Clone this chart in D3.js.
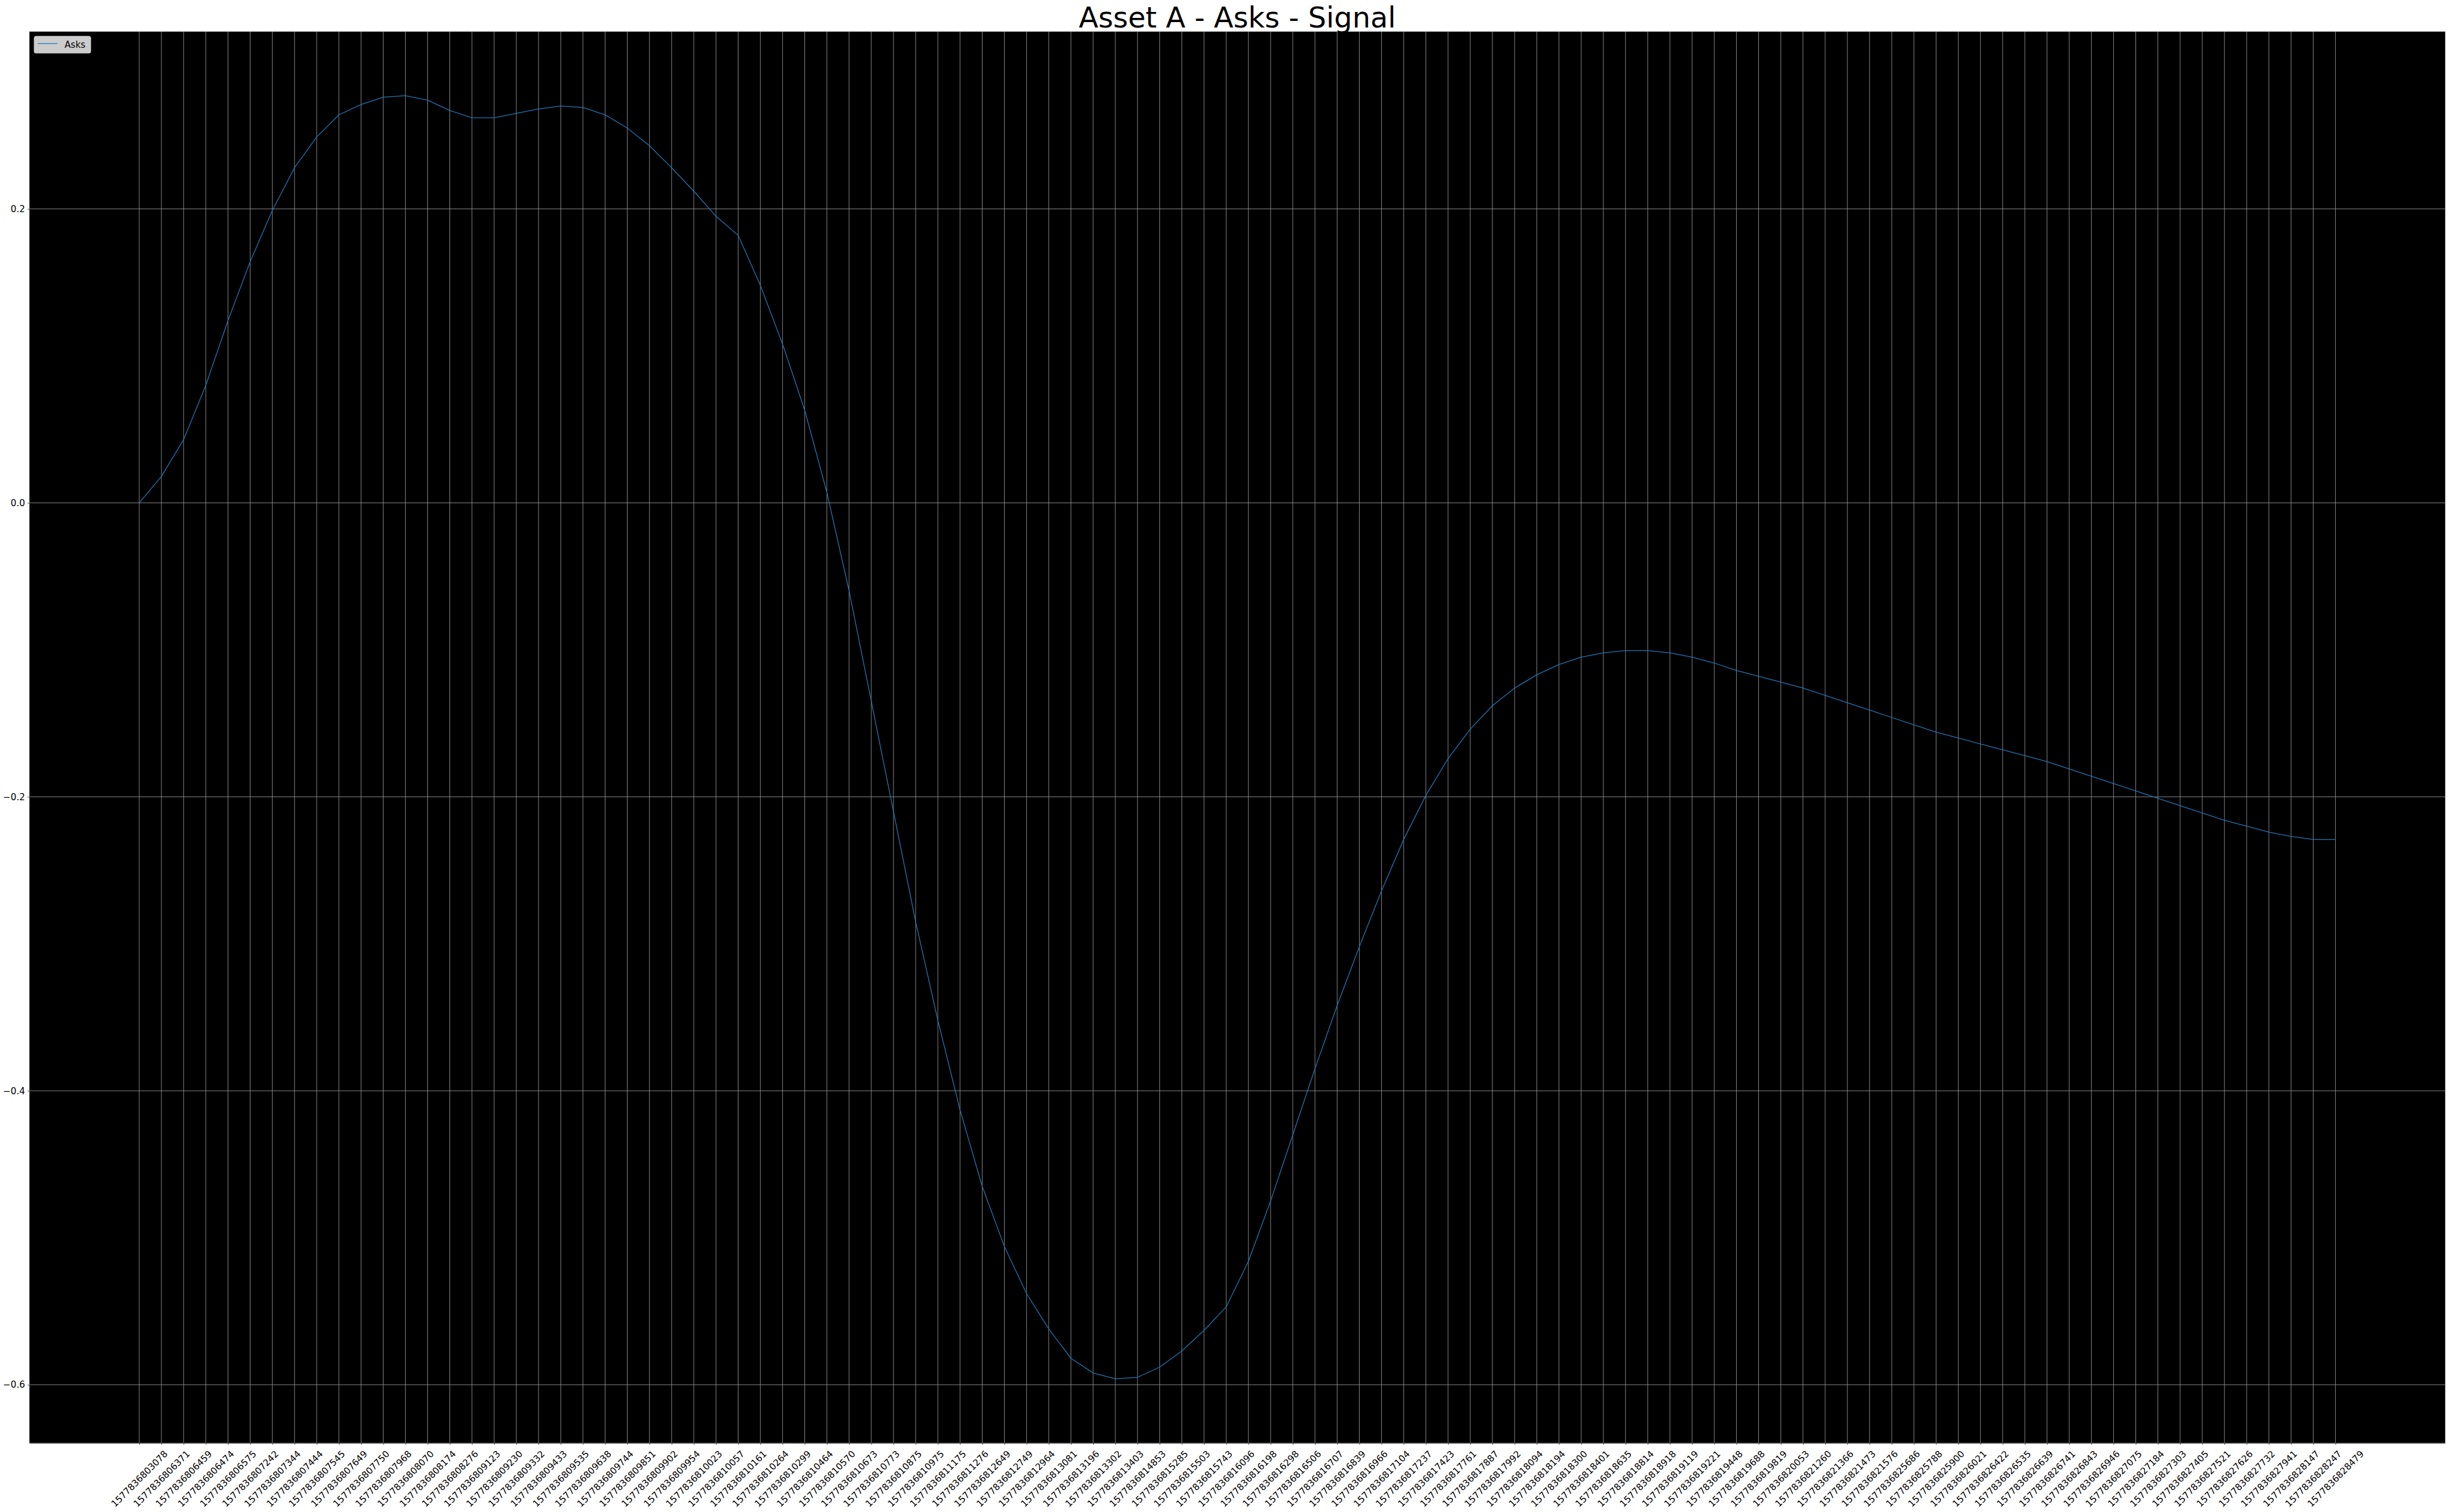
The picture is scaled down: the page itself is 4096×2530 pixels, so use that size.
<!DOCTYPE html>
<html><head><meta charset="utf-8">
<script src="https://cdn.jsdelivr.net/npm/d3@7"></script>
<style>html,body{margin:0;padding:0;background:#fff;overflow:hidden;} svg{display:block;font-family:"DejaVu Sans",sans-serif;}</style>
</head><body>
<script>
const chartTitle = "Asset A - Asks - Signal";
const seriesName = "Asks";
const timestamps = [
"1577836803078","1577836806371","1577836806459","1577836806474","1577836806575","1577836807242","1577836807344","1577836807444","1577836807545","1577836807649",
"1577836807750","1577836807968","1577836808070","1577836808174","1577836808276","1577836809123","1577836809230","1577836809332","1577836809433","1577836809535",
"1577836809638","1577836809744","1577836809851","1577836809902","1577836809954","1577836810023","1577836810057","1577836810161","1577836810264","1577836810299",
"1577836810464","1577836810570","1577836810673","1577836810773","1577836810875","1577836810975","1577836811175","1577836811276","1577836812649","1577836812749",
"1577836812964","1577836813081","1577836813196","1577836813302","1577836813403","1577836814853","1577836815285","1577836815503","1577836815743","1577836816096",
"1577836816198","1577836816298","1577836816506","1577836816707","1577836816839","1577836816966","1577836817104","1577836817237","1577836817423","1577836817761",
"1577836817887","1577836817992","1577836818094","1577836818194","1577836818300","1577836818401","1577836818635","1577836818814","1577836818918","1577836819119",
"1577836819221","1577836819448","1577836819688","1577836819819","1577836820053","1577836821260","1577836821366","1577836821473","1577836821576","1577836825686",
"1577836825788","1577836825900","1577836826021","1577836826422","1577836826535","1577836826639","1577836826741","1577836826843","1577836826946","1577836827075",
"1577836827184","1577836827303","1577836827405","1577836827521","1577836827626","1577836827732","1577836827941","1577836828147","1577836828247","1577836828479"];
const asks = [
0.000,0.018,0.043,0.080,0.124,0.164,0.199,0.228,0.249,0.264,
0.271,0.276,0.277,0.274,0.267,0.262,0.262,0.265,0.268,0.270,
0.269,0.264,0.255,0.243,0.228,0.212,0.195,0.182,0.148,0.108,
0.063,0.007,-0.060,-0.135,-0.210,-0.285,-0.352,-0.413,-0.465,-0.506,
-0.538,-0.562,-0.582,-0.592,-0.596,-0.595,-0.588,-0.577,-0.563,-0.547,
-0.516,-0.475,-0.430,-0.385,-0.342,-0.302,-0.264,-0.229,-0.199,-0.174,
-0.154,-0.138,-0.126,-0.117,-0.110,-0.105,-0.102,-0.1005,-0.1005,-0.102,
-0.105,-0.109,-0.114,-0.118,-0.122,-0.126,-0.131,-0.136,-0.141,-0.146,
-0.151,-0.156,-0.160,-0.164,-0.168,-0.172,-0.176,-0.181,-0.186,-0.191,
-0.196,-0.201,-0.206,-0.211,-0.216,-0.220,-0.224,-0.227,-0.229,-0.229];
const yTickValues = [-0.6,-0.4,-0.2,0.0,0.2];

const S = 0.724, W = 4096, H = 2530;
const m = {left:68*S, right:5651*S, top:73*S, bottom:3335*S};
const fs = 21*S;

const svg = d3.select("body").append("svg").attr("width",W).attr("height",H);
svg.append("rect").attr("width",W).attr("height",H).attr("fill","#fff");

const x = d3.scalePoint().domain(timestamps).range([m.left,m.right]).padding(4.95);
const lo = d3.min(asks), hi = d3.max(asks), pad = (hi-lo)*0.05;
const y = d3.scaleLinear().domain([lo-pad, hi+pad]).range([m.bottom,m.top]);

svg.append("rect").attr("x",m.left).attr("y",m.top).attr("width",m.right-m.left).attr("height",m.bottom-m.top).attr("fill","#000");

const grid = svg.append("g").attr("stroke","#b0b0b0").attr("stroke-width",0.9).attr("opacity",0.85);
grid.selectAll("line.v").data(timestamps).join("line").attr("class","v")
  .attr("x1",d=>x(d)).attr("x2",d=>x(d)).attr("y1",m.top).attr("y2",m.bottom);
grid.selectAll("line.h").data(yTickValues).join("line").attr("class","h")
  .attr("x1",m.left).attr("x2",m.right).attr("y1",d=>y(d)).attr("y2",d=>y(d));

const line = d3.line().x((d,i)=>x(timestamps[i])).y(d=>y(d));
svg.append("path").datum(asks).attr("d",line).attr("fill","none").attr("stroke","#1f77b4").attr("stroke-width",1.3);

// x axis
const xa = svg.append("g").attr("transform",`translate(0,${m.bottom})`)
  .call(d3.axisBottom(x).tickSize(4*S).tickSizeOuter(0));
xa.select(".domain").attr("stroke","#333").attr("stroke-width",1);
xa.selectAll(".tick line").attr("stroke","#333").attr("stroke-width",1);
const labTop = 13*S;
xa.selectAll(".tick text").attr("font-size",fs).attr("font-family","DejaVu Sans").attr("fill","#000")
  .attr("text-anchor","middle").attr("dominant-baseline","central").attr("dy",null).attr("y",0)
  .each(function(){
    const w = this.getComputedTextLength();
    const h = fs*1.17;
    const ext = (w+h)/Math.SQRT2;
    d3.select(this).attr("transform",`translate(0,${labTop+ext/2}) rotate(-45)`);
  });

// y axis
const ya = svg.append("g").attr("transform",`translate(${m.left},0)`)
  .call(d3.axisLeft(y).tickValues(yTickValues).tickFormat(d3.format(".1f")).tickSize(4*S).tickPadding(6*S).tickSizeOuter(0));
ya.select(".domain").remove();
ya.selectAll(".tick line").attr("stroke","#333");
ya.selectAll(".tick text").attr("font-size",fs).attr("font-family","DejaVu Sans").attr("fill","#000");

// title
svg.append("text").attr("x",(m.left+m.right)/2).attr("y",63.5*S).attr("text-anchor","middle")
  .attr("font-size",66*S).attr("fill","#000").text(chartTitle);

// legend
const lg = svg.append("g");
lg.append("rect").attr("x",79*S).attr("y",84*S).attr("width",130.7*S).attr("height",38.7*S).attr("rx",4*S)
  .attr("fill","#cccccc").attr("stroke","#d9d9d9").attr("stroke-width",1);
lg.append("line").attr("x1",87*S).attr("x2",133*S).attr("y1",100.7*S).attr("y2",100.7*S)
  .attr("stroke","#1f77b4").attr("stroke-width",1.3);
lg.append("text").attr("x",149*S).attr("y",110*S).attr("font-size",fs).attr("fill","#000").text(seriesName);
</script>
</body></html>
